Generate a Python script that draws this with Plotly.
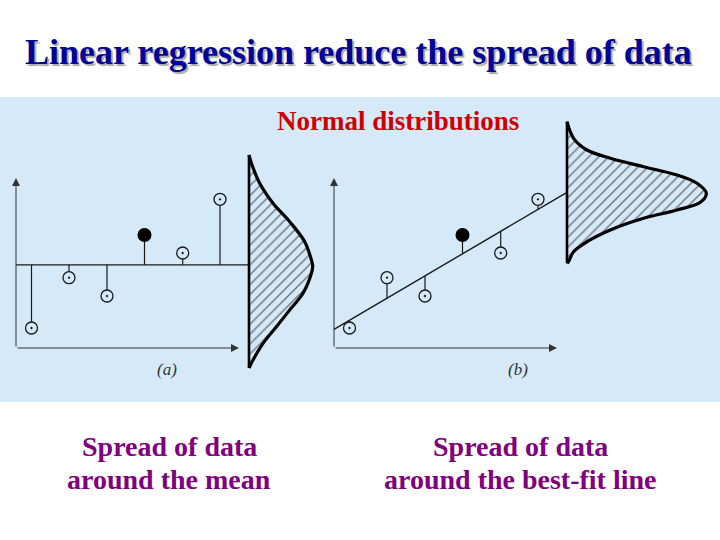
import numpy as np
import plotly.graph_objects as go

# ---- data (same sample shown in both panels) ----
x_data = [1.55, 5.3, 9.1, 12.85, 16.67, 20.4]
y_data = [2.0, 7.03, 5.2, 11.3, 9.5, 14.87]
highlight_index = 3

# normal-distribution outlines: height (Y) and width (W)
dist_a_y = [19.3, 18.47, 16.47, 14.47, 12.63, 10.63, 8.8, 8.2, 7.47, 5.47, 3.8, 2.13, 0.47, -1.2, -2.0]
dist_a_w = [0, 0.24, 1.07, 2.4, 4.07, 5.57, 6.24, 6.37, 6.24, 5.4, 4.07, 2.74, 1.4, 0.4, 0]
dist_b_y = [22.63, 20.97, 19.8, 18.97, 18.13, 17.3, 16.47, 15.47, 14.57, 13.8, 12.97, 11.8, 10.63, 9.63, 8.63, 8.47]
dist_b_w = [0, 0.66, 2.0, 4.33, 7.66, 11.0, 13.0, 13.93, 13.33, 11.0, 7.66, 4.33, 2.0, 0.66, 0.15, 0]
dist_base_x = 23.3
axis_x_end = 22.3
axis_y_end = 17.0

title_text = "Linear regression reduce the spread of data"
dist_label = "Normal distributions"
panel_labels = ["(a)", "(b)"]
caption_a = ["Spread of data", "around the mean"]
caption_b = ["Spread of data", "around the best-fit line"]

BG = "#D5E9F8"
INK = "#1a1a1a"
SERIF = "Liberation Serif, Times New Roman, serif"

xd = np.array(x_data)
yd = np.array(y_data)
mean_y = yd.mean()
slope, intercept = np.polyfit(xd, yd, 1)
open_idx = [i for i in range(len(xd)) if i != highlight_index]

fig = go.Figure()


def add_panel(xa, ya, line_x, line_y, dist_y, dist_w):
    # fitted line (mean or regression)
    fig.add_trace(go.Scatter(x=line_x, y=line_y, mode="lines", xaxis=xa, yaxis=ya,
                             line=dict(color=INK, width=1.4), hoverinfo="skip"))
    # residual stems
    ref = np.interp(xd, line_x, line_y)
    sx, sy = [], []
    for xi, yi, ri in zip(xd, yd, ref):
        sx += [xi, xi, None]
        sy += [ri, yi, None]
    fig.add_trace(go.Scatter(x=sx, y=sy, mode="lines", xaxis=xa, yaxis=ya,
                             line=dict(color=INK, width=1.2), hoverinfo="skip"))
    # markers: background disks, open-dot circles, highlighted filled point
    fig.add_trace(go.Scatter(x=xd[open_idx], y=yd[open_idx], mode="markers", xaxis=xa, yaxis=ya,
                             marker=dict(symbol="circle", size=12, color=BG, line=dict(width=0)),
                             hoverinfo="skip"))
    fig.add_trace(go.Scatter(x=xd[open_idx], y=yd[open_idx], mode="markers", xaxis=xa, yaxis=ya,
                             marker=dict(symbol="circle-open-dot", size=12, color=INK,
                                         line=dict(width=1.3, color=INK)),
                             hoverinfo="skip"))
    fig.add_trace(go.Scatter(x=[xd[highlight_index]], y=[yd[highlight_index]], mode="markers",
                             xaxis=xa, yaxis=ya,
                             marker=dict(symbol="circle", size=14, color="black"),
                             hoverinfo="skip"))
    # hatched normal distribution
    fig.add_trace(go.Scatter(x=[dist_base_x + w for w in dist_w], y=dist_y, mode="lines",
                             xaxis=xa, yaxis=ya, fill="toself", fillcolor=BG,
                             fillpattern=dict(shape="/", size=7, solidity=0.2,
                                              fgcolor="black", bgcolor=BG),
                             line=dict(color="black", width=3.2, shape="spline", smoothing=1.0),
                             hoverinfo="skip"))
    fig.add_trace(go.Scatter(x=[dist_base_x, dist_base_x], y=[dist_y[0], dist_y[-1]], mode="lines",
                             xaxis=xa, yaxis=ya, line=dict(color="black", width=2.6),
                             hoverinfo="skip"))


# panel (a): spread around the mean
add_panel("x", "y", [0, dist_base_x], [mean_y, mean_y], dist_a_y, dist_a_w)
# panel (b): spread around best-fit line
add_panel("x2", "y2", [0, dist_base_x], [intercept, intercept + slope * dist_base_x], dist_b_y, dist_b_w)

annotations = []
# axis arrows in data coordinates
for xr, yr in [("x", "y"), ("x2", "y2")]:
    for tip in [(0, axis_y_end), (axis_x_end, 0)]:
        annotations.append(dict(x=tip[0], y=tip[1], ax=0, ay=0, xref=xr, yref=yr,
                                axref=xr, ayref=yr, text="", showarrow=True,
                                arrowhead=2, arrowsize=1.6, arrowwidth=1, arrowcolor="#333",
                                standoff=0, startstandoff=0))


def txt(t, xpx, ypx, size, color, bold=True, italic=False, shadow=None):
    f = dict(family=SERIF, size=size, color=color)
    if bold:
        f["weight"] = "bold"
    if italic:
        f["style"] = "italic"
    if shadow:
        f["shadow"] = shadow
    annotations.append(dict(text=t, x=xpx / 720, y=1 - ypx / 540, xref="paper", yref="paper",
                            xanchor="center", yanchor="middle", showarrow=False, font=f))


txt(title_text, 358, 52, 36, "#000099", shadow="2px 2px 1px #a8a8a8")
txt(dist_label, 398, 121, 27, "#D00000")
txt(panel_labels[0], 167, 369, 17, "#333333", bold=False, italic=True)
txt(panel_labels[1], 518, 369, 17, "#333333", bold=False, italic=True)
txt(caption_a[0], 169, 446.5, 28, "#800080")
txt(caption_a[1], 169, 479.5, 28, "#800080")
txt(caption_b[0], 520, 446, 28, "#800080")
txt(caption_b[1], 520, 479, 28, "#800080")

yrange = [-19.2, 34.8]
fig.update_layout(
    width=720, height=540, margin=dict(l=0, r=0, t=0, b=0),
    paper_bgcolor="white", plot_bgcolor="rgba(0,0,0,0)", showlegend=False,
    xaxis=dict(domain=[0, 340 / 720], range=[-1.6, 32.4], visible=False, fixedrange=True),
    yaxis=dict(domain=[0, 1], range=yrange, visible=False, fixedrange=True),
    xaxis2=dict(domain=[320 / 720, 1], range=[-1.4, 38.6], visible=False, anchor="y2", fixedrange=True),
    yaxis2=dict(domain=[0, 1], range=yrange, visible=False, anchor="x2", fixedrange=True),
    shapes=[dict(type="rect", xref="paper", yref="paper", x0=0, x1=1,
                 y0=1 - 402 / 540, y1=1 - 97 / 540, fillcolor=BG, line=dict(width=0), layer="below")],
    annotations=annotations,
)

fig.write_html("out.html", config={"displayModeBar": False},
               post_script="document.body.style.margin='0px';document.body.style.overflow='hidden';")
